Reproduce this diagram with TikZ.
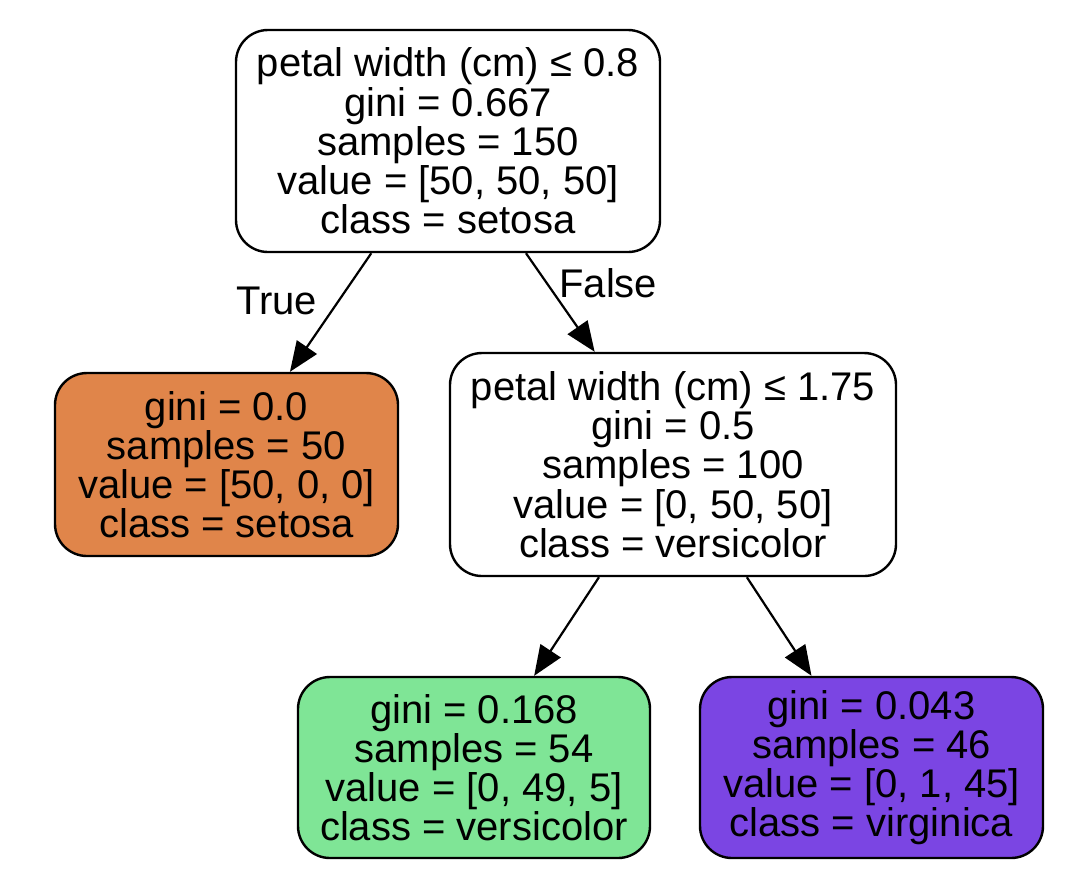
\documentclass[tikz,border=0pt]{standalone}
\usepackage{fontspec}
\setmainfont{Liberation Sans}
\usetikzlibrary{arrows.meta}

\definecolor{setosacol}{HTML}{E0854A}
\definecolor{versicol}{HTML}{7FE596}
\definecolor{virgincol}{HTML}{7B45E3}

\begin{document}
\begin{tikzpicture}[x=0.5pt, y=-0.5pt,
  treenode/.style={draw, rectangle, rounded corners=16pt, line width=1.2pt, align=center,
    font=\fontsize{20}{19.6}\selectfont},
  edgelbl/.style={font=\fontsize{20}{19.6}\selectfont},
  >={Triangle[length=15pt, width=12pt]}]
\useasboundingbox[fill=white] (0,0) rectangle (1080,880);

\node[treenode, minimum width=212pt, minimum height=111pt] (root) at (448,141)
  {petal width (cm) ≤ 0.8\\gini = 0.667\\samples = 150\\value = [50, 50, 50]\\class = setosa};
\node[treenode, fill=setosacol, minimum width=171.5pt, minimum height=91.5pt] (setosa) at (226.5,464.5)
  {gini = 0.0\\samples = 50\\value = [50, 0, 0]\\class = setosa};
\node[treenode, minimum width=223pt, minimum height=111.5pt] (split) at (673,464.5)
  {petal width (cm) ≤ 1.75\\gini = 0.5\\samples = 100\\value = [0, 50, 50]\\class = versicolor};
\node[treenode, fill=versicol, minimum width=176pt, minimum height=90.5pt] (versicolor) at (474,767.5)
  {gini = 0.168\\samples = 54\\value = [0, 49, 5]\\class = versicolor};
\node[treenode, fill=virgincol, minimum width=171.5pt, minimum height=90.5pt] (virginica) at (871.5,767.5)
  {gini = 0.043\\samples = 46\\value = [0, 1, 45]\\class = virginica};

\draw[->, line width=1.1pt] (root) -- node[edgelbl, pos=0.4, left=7pt] (truelbl) {True} (setosa);
\draw[->, line width=1.1pt] (root) -- node[edgelbl, pos=0.3, right=2.5pt] (falselbl) {False} (split);
\draw[->, line width=1.1pt] (split) -- (versicolor);
\draw[->, line width=1.1pt] (split) -- (virginica);
\end{tikzpicture}
\end{document}
